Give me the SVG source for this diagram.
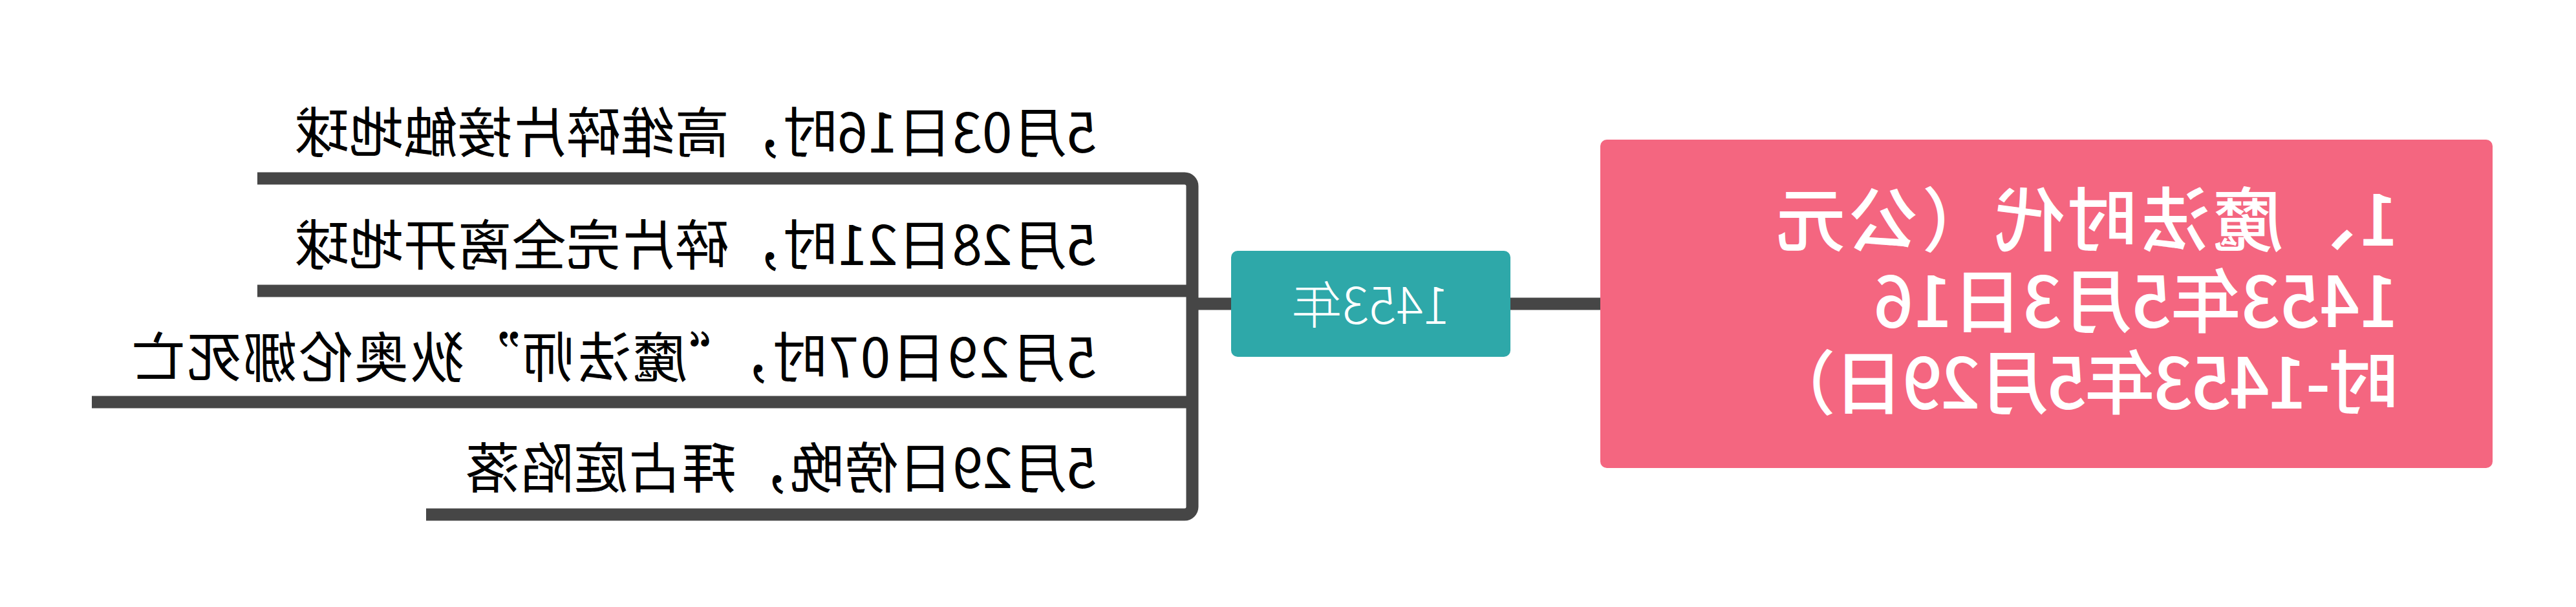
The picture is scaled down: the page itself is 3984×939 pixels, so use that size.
<svg xmlns="http://www.w3.org/2000/svg" width="3984" height="939" viewBox="0 0 3984 939">
<style>
.conn{fill:none;stroke:#464646;stroke-width:19;stroke-linecap:butt;stroke-linejoin:round}
.root{fill:#F46680}
.main{fill:#2EA8A9}
.rt{fill:#fff;font-family:"Noto Sans CJK SC","Noto Sans",sans-serif;font-size:108px;font-weight:500}
.mt{fill:#fff;font-family:"Noto Sans CJK SC","Noto Sans",sans-serif;font-size:78px;font-weight:300;text-anchor:middle}
.lt{fill:#000;font-family:"Noto Sans CJK SC","Noto Sans",sans-serif;font-size:84px}
</style>
<rect width="3984" height="939" fill="#fff"/>
<g transform="matrix(-1 0 0 1 3984 0)">
<g id="connectors">
<path class="conn" d="M1509 470H1648"/>
<path class="conn" d="M2080 470H2140"/>
<path class="conn" d="M3586 276H2152A12 12 0 0 0 2140 288V784A12 12 0 0 0 2152 796H3325"/>
<path class="conn" d="M2140 450H3586"/>
<path class="conn" d="M2140 622H3842"/>
</g>
<g id="root">
<rect class="root" x="129" y="216" width="1380" height="508" rx="10"/>
<text class="rt" x="274" y="380" textLength="963">1、魔法时代（公元</text>
<text class="rt" x="274" y="506" textLength="812">1453年5月3日16</text>
<text class="rt" x="274" y="632" textLength="979">时-1453年5月29日）</text>
</g>
<g id="main">
<rect class="main" x="1648" y="388" width="432" height="164" rx="10"/>
<text class="mt" x="1864" y="501">1453年</text>
</g>
<g id="sub1"><text class="lt" x="2288" y="236" textLength="1240">5月03日16时，高维碎片接触地球</text></g>
<g id="sub2"><text class="lt" x="2288" y="410" textLength="1240">5月28日21时，碎片完全离开地球</text></g>
<g id="sub3"><text class="lt" x="2288" y="584" textLength="1493">5月29日07时，“魔法师”狄奥伦娜死亡</text></g>
<g id="sub4"><text class="lt" x="2288" y="755" textLength="976">5月29日傍晚，拜占庭陷落</text></g>
</g>
</svg>
